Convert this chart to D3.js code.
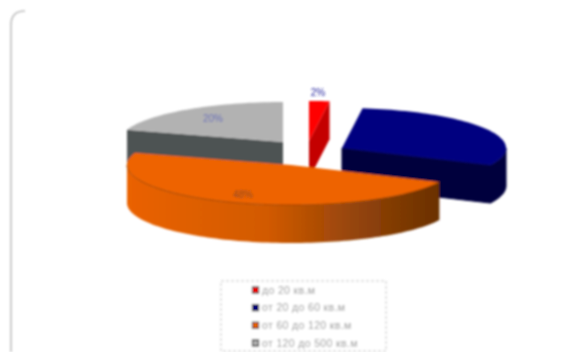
<!DOCTYPE html>
<html><head><meta charset="utf-8">
<script src="https://cdn.jsdelivr.net/npm/d3@7"></script>
<style>html,body{margin:0;padding:0;background:#fff}svg{display:block}text{font-family:"Liberation Sans",Arial,sans-serif}</style>
</head><body><svg id="c" width="584" height="352"></svg>
<script>
const categories = ["до 20 кв.м", "от 20 до 60 кв.м", "от 60 до 120 кв.м", "от 120 до 500 кв.м"];
const values = [2, 30, 48, 20];
const topColors = ["#ff0000", "#000080", "#ee6400", "#b2b2b2"];
const faceColors = ["#c40000", "#00003e", "#7a3800", "#4e5253"];
const labelColors = ["#2a2aa0", "#000080", "#8a4a20", "#6a70b8"];

const W = 584, H = 352, rx = 164, ry = 40, depth = 38;
const centers = [[309,141],[342,148],[291,165],[283,142]];
const labelPos = [[318,96],[425,137],[243,198],[213,122]];

const svg = d3.select("#c");
const defs = svg.append("defs");
defs.append("filter").attr("id","soft").attr("x","-5%").attr("y","-5%").attr("width","110%").attr("height","110%")
  .append("feGaussianBlur").attr("stdDeviation",0.8);
const grad = defs.append("linearGradient").attr("id","orangeSide").attr("gradientUnits","userSpaceOnUse")
  .attr("x1",126).attr("x2",440).attr("y1",0).attr("y2",0);
[[0,"#ea6200"],[0.45,"#d25a00"],[0.72,"#96450a"],[1,"#6a3000"]].forEach(s=>grad.append("stop").attr("offset",s[0]).attr("stop-color",s[1]));

const root = svg.append("g").attr("filter","url(#soft)");
root.append("path").attr("d","M11,352 V25 Q11,11 25,11")
  .attr("fill","none").attr("stroke","#bdbdbd").attr("stroke-width",1.6);

const pie = d3.pie().sort(null).value(d=>d)(values);
const px = (c,a)=>c[0]+rx*Math.sin(a), py=(c,a)=>c[1]-ry*Math.cos(a);
const line = d3.line();
function arcPts(c,a0,a1,dy=0){
  const n=Math.max(2,Math.ceil(Math.abs(a1-a0)/0.03));
  return d3.range(n+1).map(i=>{const a=a0+(a1-a0)*i/n;return [px(c,a),py(c,a)+dy];});
}
function topPath(i){const d=pie[i],c=centers[i];return line([c,...arcPts(c,d.startAngle,d.endAngle)])+"Z";}
function radial(c,a){return line([c,[px(c,a),py(c,a)],[px(c,a),py(c,a)+depth],[c[0],c[1]+depth]])+"Z";}
function outer(c,a0,a1){return line([...arcPts(c,a0,a1),...arcPts(c,a1,a0,depth)])+"Z";}

[3,0,1,2].forEach(i=>{
  const d=pie[i],c=centers[i],g=root.append("g");
  const fill=i===2?"url(#orangeSide)":faceColors[i];
  if(i===3) g.append("path").attr("d",radial(c,d.startAngle)).attr("fill",fill);
  if(i===0) g.append("path").attr("d",radial(c,d.endAngle)).attr("fill",fill);
  if(i===1){
    g.append("path").attr("d",radial(c,d.endAngle)).attr("fill",fill).attr("stroke",fill);
    g.append("path").attr("d",outer(c,Math.PI/2,d.endAngle)).attr("fill",fill).attr("stroke",fill);
  }
  if(i===2) g.append("path").attr("d",outer(c,d.startAngle,3*Math.PI/2)).attr("fill",fill);
  g.append("path").attr("d",topPath(i)).attr("fill",topColors[i]);
  if(i===2) g.append("path").attr("d",line(arcPts(c,d.startAngle,3*Math.PI/2))).attr("fill","none").attr("stroke","#a04400").attr("stroke-width",1);
});

root.selectAll("text.val").data(pie).join("text").attr("class","val")
  .attr("x",(d,i)=>labelPos[i][0]).attr("y",(d,i)=>labelPos[i][1])
  .attr("text-anchor","middle").attr("font-size",10).attr("fill",(d,i)=>labelColors[i])
  .text(d=>d.value+"%");

// legend
const lx=221, ly=281, lw=165, lh=70;
root.append("rect").attr("x",lx).attr("y",ly).attr("width",lw).attr("height",lh)
  .attr("fill","#fff").attr("stroke","#c4c4c4").attr("stroke-dasharray","3 2");
const yLeg=d3.scalePoint().domain(categories).range([290,343]);
const leg=root.selectAll("g.leg").data(categories).join("g").attr("class","leg")
  .attr("transform",d=>`translate(0,${yLeg(d)})`);
leg.append("rect").attr("x",252.5).attr("y",-3).attr("width",6).attr("height",6)
  .attr("fill",(d,i)=>topColors[i]).attr("stroke","#222").attr("stroke-width",1.2);
leg.append("text").attr("x",262).attr("y",3.5).attr("font-size",10.5).attr("letter-spacing",0.35).attr("fill","#9a9a9a").text(d=>d);
</script></body></html>
